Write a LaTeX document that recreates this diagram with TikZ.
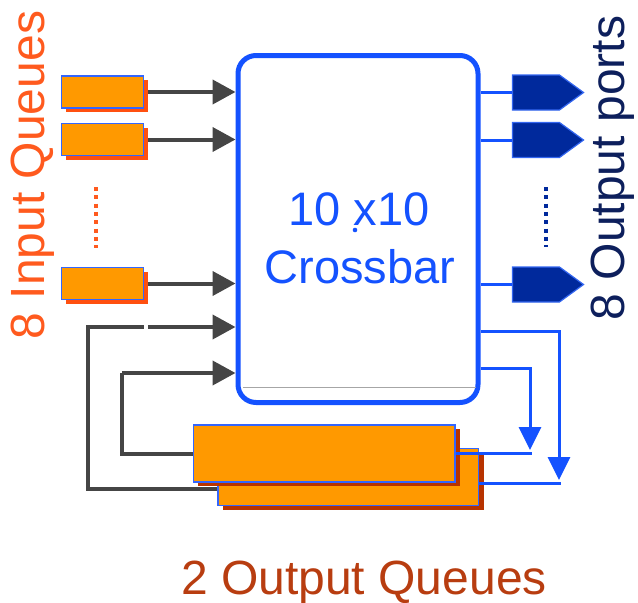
\documentclass[tikz,border=0pt]{standalone}
\usepackage{fontspec}
\setmainfont{Liberation Sans}
\usetikzlibrary{arrows.meta,shapes.symbols,shadows}
\definecolor{qorange}{HTML}{FF9900}
\definecolor{ishadow}{HTML}{FF5010}
\definecolor{oshadow}{HTML}{B83300}
\definecolor{qedge}{HTML}{3366FF}
\definecolor{xblue}{HTML}{1452FF}
\definecolor{arrgray}{HTML}{454545}
\definecolor{portfill}{HTML}{00299C}
\definecolor{portedge}{HTML}{3366F0}
\definecolor{itext}{HTML}{FF5A1E}
\definecolor{ptext}{HTML}{0D1F5C}
\definecolor{otext}{HTML}{B83D10}
\begin{document}
\begin{tikzpicture}[x=1pt,y=-1pt,
  iqueue/.style={draw=qedge,line width=1.5pt,fill=qorange,minimum width=82pt,minimum height=32pt,inner sep=0pt,
    drop shadow={shadow xshift=4pt,shadow yshift=-4pt,fill=ishadow,opacity=1}},
  oqueue/.style={draw=qedge,line width=1.5pt,fill=qorange,minimum height=57pt,inner sep=0pt,
    drop shadow={shadow xshift=5pt,shadow yshift=-4.5pt,fill=oshadow,opacity=1}},
  xbar/.style={draw=xblue,line width=5pt,fill=white,rounded corners=18pt,minimum width=240pt,minimum height=347pt,inner sep=0pt},
  port/.style={shape=signal,signal to=east,signal pointer angle=72,fill=portfill,draw=portedge,line width=1.2pt,
    minimum width=71pt,minimum height=35pt,inner sep=0pt},
  garrow/.style={draw=arrgray,line width=4pt,-{Triangle[length=23pt,width=24pt]}},
  gline/.style={draw=arrgray,line width=4pt},
  barrow/.style={draw=xblue,line width=3pt,-{Triangle[length=23pt,width=22pt]}},
  bline/.style={draw=xblue,line width=3pt},
  dotline/.style={line width=4pt,dash pattern=on 4pt off 4.3pt},
  big/.style={font=\fontsize{48}{58}\selectfont,inner sep=0pt}
]
\useasboundingbox (0,0) rectangle (638,603);

% crossbar
\node[xbar] (xb) at (358,229) {};
\draw[draw=gray!70,line width=1.5pt] (243,387.5) -- (476,387.5);
\node[big,font=\fontsize{47}{56}\selectfont,text=xblue,anchor=base] (xt1) at (359,225) {10 x10};
\node[big,font=\fontsize{47}{56}\selectfont,text=xblue,anchor=base] (xt2) at (360,283) {Crossbar};
\fill[xblue] (355,230) circle (2.3pt);

% input queues
\node[iqueue] (iq1) at (102.5,92) {};
\node[iqueue] (iq2) at (102.5,139.5) {};
\node[iqueue] (iq3) at (102.5,283.5) {};
\draw[garrow] ([xshift=4pt]iq1.east) -- (xb.west |- iq1.east);
\draw[garrow] ([xshift=4pt]iq2.east) -- (xb.west |- iq2.east);
\draw[garrow] ([xshift=4pt]iq3.east) -- (xb.west |- iq3.east);
\draw[dotline,draw=itext] (96,187) -- (96,248);

% output queues
\node[oqueue,minimum width=260.8pt] (oq2) at (348.2,477.2) {};
\node[oqueue,minimum width=261.8pt] (oq1) at (324.3,453.3) {};

% feedback lines
\coordinate (c1) at (87.5,489);
\coordinate (c2) at (87.5,327);
\coordinate (g1) at (144.4,327);
\coordinate (g2) at (147.8,327);
\draw[gline] (oq2.west |- c1) -- (c1) -- (c2) -- (g1);
\draw[garrow] (g2) -- (xb.west |- g2);
\coordinate (d1) at (122,454);
\coordinate (d2) at (122,373);
\draw[gline] (oq1.west |- d1) -- (d1) -- (d2);
\draw[garrow] (d2) -- (xb.west |- d2);

% blue outputs to output queues
\coordinate (j1) at (530,450);
\coordinate (j2) at (559,480);
\draw[barrow] (xb.east |- 0,368) -| (j1);
\draw[barrow] (xb.east |- 0,331) -| (j2);
\draw[bline] (oq1.east |- 0,453) -- (531.5,453);
\draw[bline] (oq2.east |- 0,483) -- (560.5,483);

% output ports
\node[port] (op1) at (536,92.5) {};
\node[port] (op2) at (536,140) {};
\node[port] (op3) at (536,284.5) {};
\draw[bline] (xb.east |- op1.west) -- (op1.west);
\draw[bline] (xb.east |- op2.west) -- (op2.west);
\draw[bline] (xb.east |- op3.west) -- (op3.west);
\draw[dotline,draw=portfill] (546,187) -- (546,247);

% labels
\node[big,text=itext,rotate=90] (lin) at (33,175) {8 Input Queues};
\node[big,text=ptext,rotate=90] (lout) at (613,168) {8 Output ports};
\node[big,text=otext,anchor=base] (loq) at (364,594) {2 Output Queues};
\end{tikzpicture}
\end{document}
